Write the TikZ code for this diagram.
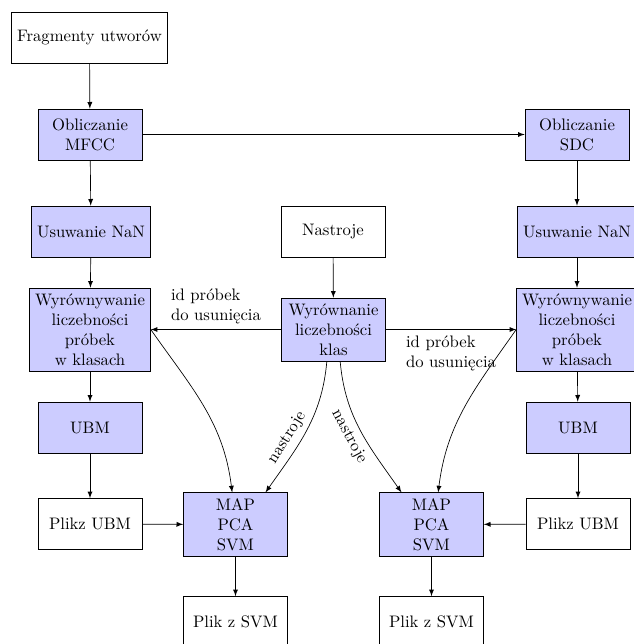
\documentclass[tikz,border=0pt]{standalone}
\usepackage{fontspec}
\usepackage{tikz}
\usetikzlibrary{arrows.meta,positioning}

\begin{document}
\begin{tikzpicture}[
  x=0.6pt,y=0.6pt,
  font=\normalsize,
  bx/.style ={draw,align=center,minimum width=62.4pt,minimum height=30.6pt,fill=white},
  pr/.style ={bx,fill=blue!20},
  ar/.style ={-latex},
  lb/.style ={align=left}
]
\useasboundingbox (0,0) rectangle (634,-644);

% ======== left column
\node[bx] (frag) at (89.5,-37.5) {Fragmenty utworów};
\node[pr] (mfcc) at (90,-134.5)  {Obliczanie\\MFCC};
\node[pr] (nanL) at (91,-231.5)  {Usuwanie NaN};
\node[pr] (wyrL) at (90,-329.5)  {Wyrównywanie\\liczebności\\próbek\\w klasach};
\node[pr] (ubmL) at (90,-427.5)  {UBM};
\node[bx] (plL)  at (90,-524)    {Plikz UBM};

% ======== middle
\node[bx] (nas)  at (333,-232)     {Nastroje};
\node[pr] (klas) at (333.5,-329.5) {Wyrównanie\\liczebności\\klas};
\node[pr] (mapL) at (235.5,-524.5) {MAP\\PCA\\SVM};
\node[pr] (mapR) at (431.5,-524.5) {MAP\\PCA\\SVM};
\node[bx] (svL)  at (235.5,-622)   {Plik z SVM};
\node[bx] (svR)  at (431.5,-622)   {Plik z SVM};

% ======== right column
\node[pr] (sdc)  at (577,-134.5) {Obliczanie\\SDC};
\node[pr] (nanR) at (577,-231.5) {Usuwanie NaN};
\node[pr] (wyrR) at (577,-329.5) {Wyrównywanie\\liczebności\\próbek\\w klasach};
\node[pr] (ubmR) at (578,-427.5) {UBM};
\node[bx] (plR)  at (578,-524)   {Plikz UBM};

% ======== straight arrows
\draw[ar] (frag) -- (mfcc);
\draw[ar] (mfcc) -- (sdc);
\draw[ar] (mfcc) -- (nanL);
\draw[ar] (sdc)  -- (nanR);
\draw[ar] (nanL) -- (wyrL);
\draw[ar] (nanR) -- (wyrR);
\draw[ar] (nas)  -- (klas);
\draw[ar] (klas) -- (wyrL)
  node[lb,midway,above]{id próbek\\do usunięcia};
\draw[ar] (klas) -- (wyrR)
  node[lb,midway,below]{id próbek\\do usunięcia};
\draw[ar] (wyrL) -- (ubmL);
\draw[ar] (wyrR) -- (ubmR);
\draw[ar] (ubmL) -- (plL);
\draw[ar] (ubmR) -- (plR);
\draw[ar] (plL)  -- (mapL);
\draw[ar] (plR)  -- (mapR);
\draw[ar] (mapL) -- (svL);
\draw[ar] (mapR) -- (svR);

% ======== curved arrows into MAP/PCA/SVM
\draw[ar] (wyrL.east) to[out=-55,in=97] ([xshift=-2pt]mapL.north);
\draw[ar] (wyrR.west) to[out=-125,in=83] ([xshift=4pt]mapR.north);
\draw[ar] ([xshift=-4pt]klas.south) to[out=-95,in=55]
  node[pos=0.62,sloped,above]{nastroje} ([xshift=18pt]mapL.north);
\draw[ar] ([xshift=4pt]klas.south) to[out=-85,in=125]
  node[pos=0.5,sloped,below]{nastroje} ([xshift=-18pt]mapR.north);
\end{tikzpicture}
\end{document}
